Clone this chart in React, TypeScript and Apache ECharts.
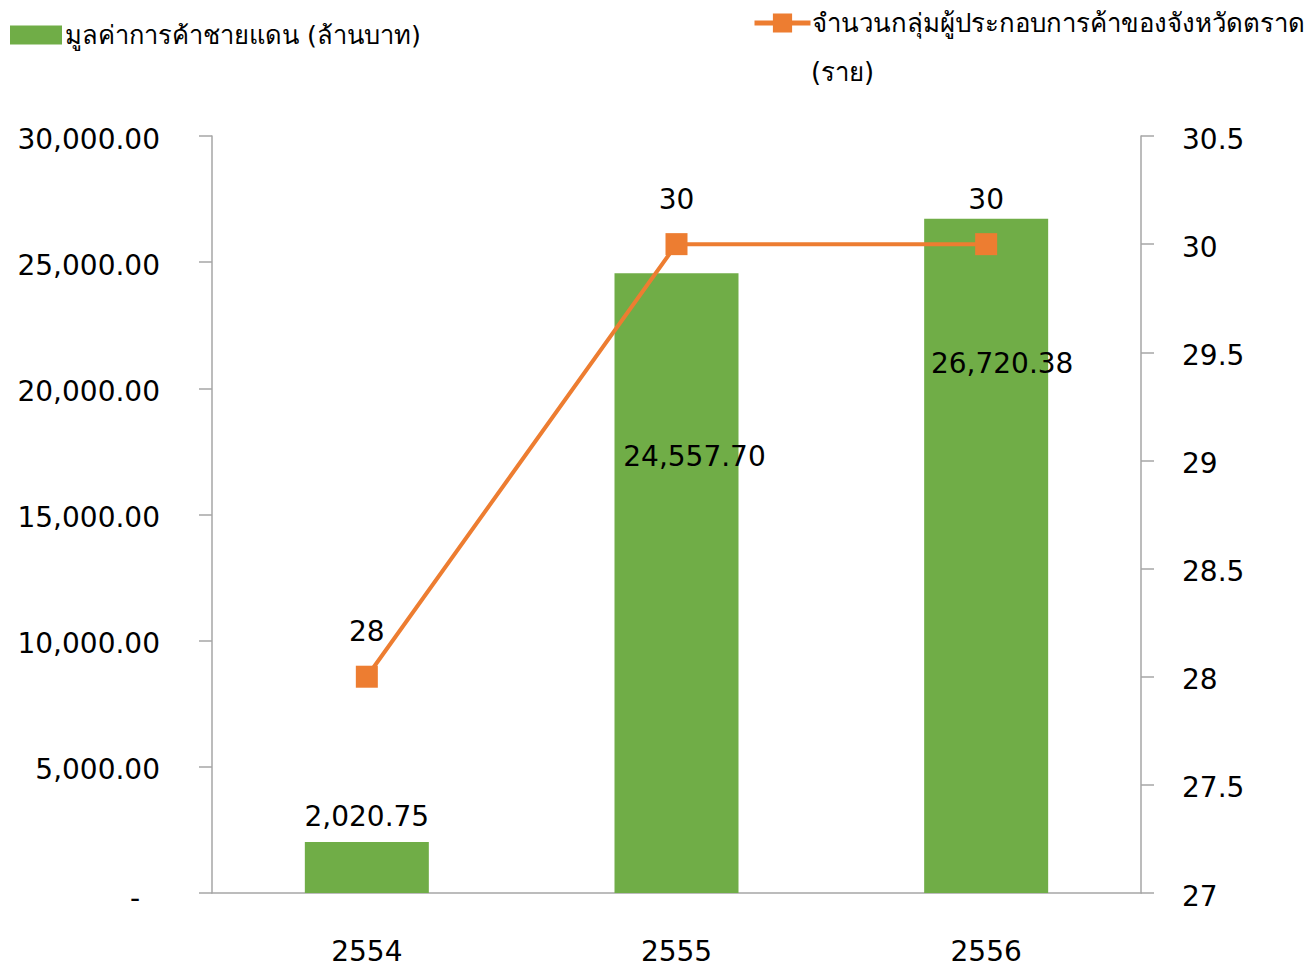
import React, { useEffect, useRef } from "react";
import * as echarts from "echarts";

const categories = ["2554", "2555", "2556"];
const tradeValues = [2020.75, 24557.7, 26720.38];
const traderCounts = [28, 30, 30];
const barName = "มูลค่าการค้าชายแดน (ล้านบาท)";
const lineName = "จำนวนกลุ่มผู้ประกอบการค้าของจังหวัดตราด (ราย)";
const leftTicks = { min: 0, max: 30000, interval: 5000 };
const rightTicks = { min: 27, max: 30.5, interval: 0.5 };

const FONT = "'DejaVu Sans', 'Noto Sans', sans-serif";
const AXIS_COLOR = "#A6A6A6";

const fmt2 = (v: number) =>
  v.toLocaleString("en-US", { minimumFractionDigits: 2, maximumFractionDigits: 2 });

export default function App() {
  const ref = useRef<HTMLDivElement>(null);
  useEffect(() => {
    if (!ref.current) return;
    const chart = echarts.init(ref.current, undefined, { renderer: "svg" });
    const labelStyle = { color: "#000", fontSize: 28, fontFamily: FONT };
    const barLabelCfg = [
      { position: "top", distance: 12 },
      { position: "insideTop", offset: [18, 164] },
      { position: "insideTop", offset: [16, 126] },
    ];
    chart.setOption({
      animation: false,
      textStyle: { fontFamily: FONT },
      legend: [
        {
          data: [barName],
          left: 10,
          top: 22,
          padding: 0,
          itemWidth: 52,
          itemHeight: 19,
          icon: "rect",
          textStyle: { fontSize: 25.5, color: "#000", fontFamily: FONT, padding: [0, 0, 0, -2] },
        },
        {
          data: [lineName],
          left: 752,
          top: 10,
          padding: 0,
          itemWidth: 56,
          itemHeight: 24,
          lineStyle: { width: 5 },
          textStyle: { fontSize: 25.8, color: "#000", fontFamily: FONT, padding: [0, 0, 0, -4] },
          formatter: (n: string) => n.replace(" (ราย)", ""),
        },
      ],
      graphic: [
        {
          type: "text",
          left: 811,
          top: 59,
          style: { text: "(ราย)", fontSize: 25.8, fill: "#000", fontFamily: FONT },
        },
      ],
      grid: { left: 212, right: 174, top: 136, bottom: 73 },
      xAxis: {
        type: "category",
        data: categories,
        axisLine: { lineStyle: { color: AXIS_COLOR, width: 1.5 } },
        axisTick: { length: 13, lineStyle: { color: AXIS_COLOR, width: 1.5 } },
        axisLabel: { color: "#000", fontSize: 28, fontFamily: FONT, margin: 44 },
      },
      yAxis: [
        {
          type: "value",
          ...leftTicks,
          splitLine: { show: false },
          axisLine: { show: true, lineStyle: { color: AXIS_COLOR, width: 1.5 } },
          axisTick: { show: true, length: 13, lineStyle: { color: AXIS_COLOR, width: 1.5 } },
          axisLabel: {
            color: "#000",
            fontSize: 28,
            fontFamily: FONT,
            margin: 52,
            padding: [6, 0, 0, 0],
            formatter: (v: number) => (v === 0 ? "{z|-}" : fmt2(v)),
            rich: { z: { fontSize: 28, fontFamily: FONT, color: "#000", padding: [4, 20, 0, 0] } },
          },
        },
        {
          type: "value",
          position: "right",
          ...rightTicks,
          splitLine: { show: false },
          axisLine: { show: true, lineStyle: { color: AXIS_COLOR, width: 1.5 } },
          axisTick: { show: true, length: 13, lineStyle: { color: AXIS_COLOR, width: 1.5 } },
          axisLabel: {
            color: "#000",
            fontSize: 28,
            fontFamily: FONT,
            margin: 41,
            formatter: (v: number) => "{r|" + String(v) + "}",
            rich: { r: { fontSize: 28, fontFamily: FONT, color: "#000", padding: [6, 0, 0, 0] } },
          },
        },
      ],
      series: [
        {
          name: barName,
          type: "bar",
          yAxisIndex: 0,
          barWidth: 124,
          itemStyle: { color: "#70AD47" },
          data: tradeValues.map((v, i) => ({
            value: v,
            label: { show: true, ...labelStyle, ...barLabelCfg[i], formatter: () => fmt2(v) },
          })),
        },
        {
          name: lineName,
          type: "line",
          yAxisIndex: 1,
          symbol: "rect",
          symbolSize: 22,
          lineStyle: { color: "#ED7D31", width: 4 },
          itemStyle: { color: "#ED7D31" },
          label: { show: true, position: "top", distance: 20, ...labelStyle },
          data: traderCounts,
        },
      ],
    });
    return () => chart.dispose();
  }, []);
  return (
    <div
      ref={ref}
      style={{ position: "absolute", left: 0, top: 0, width: 1315, height: 966 }}
    />
  );
}
